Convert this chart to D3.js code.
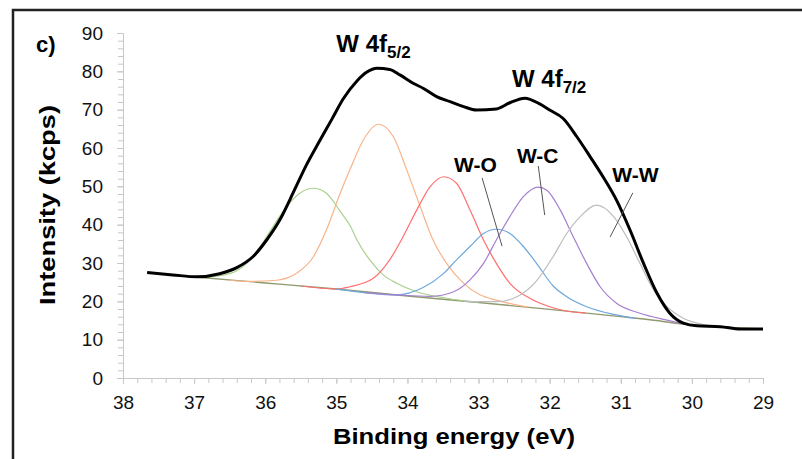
<!DOCTYPE html>
<html>
<head>
<meta charset="utf-8">
<script src="https://cdn.jsdelivr.net/npm/d3@7"></script>
<style>
  body { margin: 0; background: #fff; }
  svg { display: block; font-family: "Liberation Sans", Arial, sans-serif; }
</style>
</head>
<body>
<div id="chart"></div>
<script>
// values: [binding energy (eV), intensity (kcps)]
var envelope = [[37.66,27.5],[37.3,26.9],[36.96,26.4],[36.64,27.2],[36.4,28.8],[36.17,31.7],[35.98,36.0],
  [35.79,41.4],[35.6,48.6],[35.42,55.6],[35.23,62.0],[35.06,67.6],[34.9,72.9],[34.71,77.5],[34.57,79.8],
  [34.43,80.8],[34.25,80.5],[34.1,79.0],[33.92,76.9],[33.78,75.6],[33.59,73.4],[33.4,72.1],[33.21,70.8],
  [33.03,69.9],[32.75,70.2],[32.56,71.8],[32.35,73.0],[32.14,71.5],[32.0,69.9],[31.81,67.7],[31.62,63.0],
  [31.43,57.7],[31.25,52.5],[31.06,46.4],[30.87,38.6],[30.68,29.9],[30.49,22.1],[30.31,16.9],[30.12,14.3],
  [29.93,13.6],[29.6,13.4],[29.32,12.8],[29.0,12.8]];

var background = [[37.66,27.5],[36.9,26.2],[36.0,24.8],[35.0,23.2],[34.0,21.4],[33.0,19.7],[32.0,17.9],
  [31.0,16.0],[30.5,15.0],[30.1,14.0],[29.6,13.3],[29.0,12.8]];

var peakGreen = [[36.9,26.2],[36.6,26.8],[36.4,28.0],[36.26,29.9],[36.07,34.3],[35.89,39.5],[35.7,44.7],
  [35.5,48.4],[35.32,49.5],[35.14,48.2],[34.95,43.6],[34.8,39.5],[34.71,36.0],[34.53,30.8],[34.34,26.9],
  [34.15,24.7],[33.87,22.5],[33.45,20.8],[33.0,19.7]];

var peakOrange = [[36.5,25.5],[36.26,25.2],[35.84,25.5],[35.56,27.3],[35.32,31.7],[35.14,38.6],[34.95,48.0],
  [34.81,54.3],[34.62,62.1],[34.41,66.2],[34.2,63.0],[34.01,54.3],[33.82,44.7],[33.64,36.0],[33.45,29.9],
  [33.21,24.7],[32.98,21.7],[32.75,20.3],[32.3,18.5]];

var peakRed = [[35.5,24.0],[35.0,23.2],[34.81,23.8],[34.48,26.0],[34.25,30.8],[34.06,36.9],[33.87,43.8],
  [33.68,49.9],[33.49,52.5],[33.31,50.8],[33.12,43.8],[32.93,36.0],[32.75,29.9],[32.56,24.7],[32.28,20.8],
  [32.0,18.6],[31.8,17.6],[31.5,16.9]];

var peakBlue = [[35.0,23.2],[34.15,21.7],[33.78,23.6],[33.49,27.3],[33.31,30.8],[33.12,34.3],[32.93,37.7],
  [32.75,38.8],[32.56,37.7],[32.37,34.3],[32.18,29.8],[31.95,24.0],[31.76,21.2],[31.48,18.6],[31.1,16.6],
  [30.8,15.6]];

var peakPurple = [[34.6,22.3],[34.15,21.7],[33.68,21.3],[33.35,22.5],[33.12,25.6],[32.93,29.9],[32.75,36.0],
  [32.56,42.1],[32.37,47.3],[32.16,49.8],[32.04,49.0],[31.85,43.8],[31.67,36.9],[31.48,29.9],[31.29,23.8],
  [31.06,19.5],[30.73,16.9],[30.35,15.1],[30.1,14.1]];

var peakGray = [[33.2,20.0],[32.75,19.9],[32.46,21.2],[32.2,25.0],[31.95,31.7],[31.76,37.7],[31.57,42.1],
  [31.34,45.1],[31.1,42.1],[30.92,36.9],[30.73,29.9],[30.54,23.0],[30.35,18.6],[30.12,15.6],[29.8,13.8],
  [29.51,13.1],[29.2,12.8]];

var xTicks = [38, 37, 36, 35, 34, 33, 32, 31, 30, 29];
var yTicks = [0, 10, 20, 30, 40, 50, 60, 70, 80, 90];

// component label, text anchor point and leader line (data units)
var labels = ["W-O", "W-C", "W-W"];
var labelPos = [[33.345, 53.7], [32.46, 56.1], [31.12, 51.1]];
var leaders = [[[32.95, 52.2], [32.67, 34.4]], [[32.16, 55.3], [32.07, 42.5]], [[30.83, 48.3], [31.15, 36.8]]];

var W = 802, H = 459;
var margin = {top: 33, right: 39, bottom: 81, left: 123},
    width = W - margin.left - margin.right,
    height = H - margin.top - margin.bottom;

var svg = d3.select("#chart")
  .append("svg")
    .attr("width", W)
    .attr("height", H);

// outer frame (only top and left edges fall inside the picture)
svg.append("rect")
  .attr("x", 13).attr("y", 10)
  .attr("width", W).attr("height", H)
  .attr("fill", "none")
  .attr("stroke", "#222")
  .attr("stroke-width", 2.5);

var g = svg.append("g")
  .attr("transform", "translate(" + margin.left + "," + margin.top + ")");

var x = d3.scaleLinear().domain([38, 29]).range([0, width]);
var y = d3.scaleLinear().domain([0, 90]).range([height, 0]);

// minor ticks
g.append("g")
  .attr("transform", "translate(0," + height + ")")
  .call(d3.axisBottom(x).tickValues(d3.range(290, 381, 2).map(function(d) { return d / 10; }))
    .tickSize(5).tickFormat(""));
g.append("g")
  .call(d3.axisLeft(y).tickValues(d3.range(0, 91, 2)).tickSize(5).tickFormat(""));

// major ticks + labels
g.append("g")
  .attr("transform", "translate(0," + height + ")")
  .call(d3.axisBottom(x).tickValues(xTicks).tickSize(6).tickPadding(12).tickFormat(d3.format("d")));
g.append("g")
  .call(d3.axisLeft(y).tickValues(yTicks).tickSize(6).tickPadding(14));

g.selectAll(".domain, .tick line").attr("stroke", "#c8c8c8");
g.selectAll(".tick text")
  .attr("fill", "#111")
  .style("font-size", "19px")
  .style("font-family", "Liberation Sans, Arial, sans-serif");

var line = d3.line()
  .x(function(d) { return x(d[0]); })
  .y(function(d) { return y(d[1]); })
  .curve(d3.curveMonotoneX);

function drawLine(data, color, w) {
  g.append("path")
    .datum(data)
    .attr("fill", "none")
    .attr("stroke", color)
    .attr("stroke-width", w)
    .attr("stroke-linejoin", "round")
    .attr("d", line);
}

drawLine(background, "#8f9a6e", 1.4);
drawLine(peakGreen, "#a9d08e", 1.2);
drawLine(peakOrange, "#f7b48a", 1.2);
drawLine(peakRed, "#ff6f6f", 1.2);
drawLine(peakBlue, "#6fa8dc", 1.2);
drawLine(peakPurple, "#a57fd0", 1.2);
drawLine(peakGray, "#bdbdbd", 1.2);
drawLine(envelope, "#000", 3);

// leader lines
leaders.forEach(function(l) {
  g.append("line")
    .attr("x1", x(l[0][0])).attr("y1", y(l[0][1]))
    .attr("x2", x(l[1][0])).attr("y2", y(l[1][1]))
    .attr("stroke", "#555")
    .attr("stroke-width", 1);
});

labels.forEach(function(t, i) {
  g.append("text")
    .attr("x", x(labelPos[i][0]))
    .attr("y", y(labelPos[i][1]))
    .attr("font-size", 21)
    .attr("font-weight", "bold")
    .text(t);
});

// peak labels with subscripts
function peakLabel(be, val, sub) {
  var t = g.append("text")
    .attr("x", x(be))
    .attr("y", y(val))
    .attr("font-size", 24)
    .attr("font-weight", "bold")
    .text("W 4f");
  t.append("tspan")
    .attr("font-size", 17)
    .attr("dy", 6)
    .text(sub);
}
peakLabel(35.0, 85.05, "5/2");
peakLabel(32.53, 75.9, "7/2");

// panel letter
svg.append("text")
  .attr("x", 36).attr("y", 52)
  .attr("font-size", 22)
  .attr("font-weight", "bold")
  .text("c)");

// axis titles
svg.append("text")
  .attr("x", 454).attr("y", 444)
  .attr("text-anchor", "middle")
  .attr("font-size", 22)
  .attr("font-weight", "bold")
  .attr("textLength", 242)
  .attr("lengthAdjust", "spacingAndGlyphs")
  .text("Binding energy (eV)");

svg.append("text")
  .attr("transform", "translate(55,205) rotate(-90)")
  .attr("text-anchor", "middle")
  .attr("font-size", 22)
  .attr("font-weight", "bold")
  .attr("textLength", 200)
  .attr("lengthAdjust", "spacingAndGlyphs")
  .text("Intensity (kcps)");
</script>
</body>
</html>
